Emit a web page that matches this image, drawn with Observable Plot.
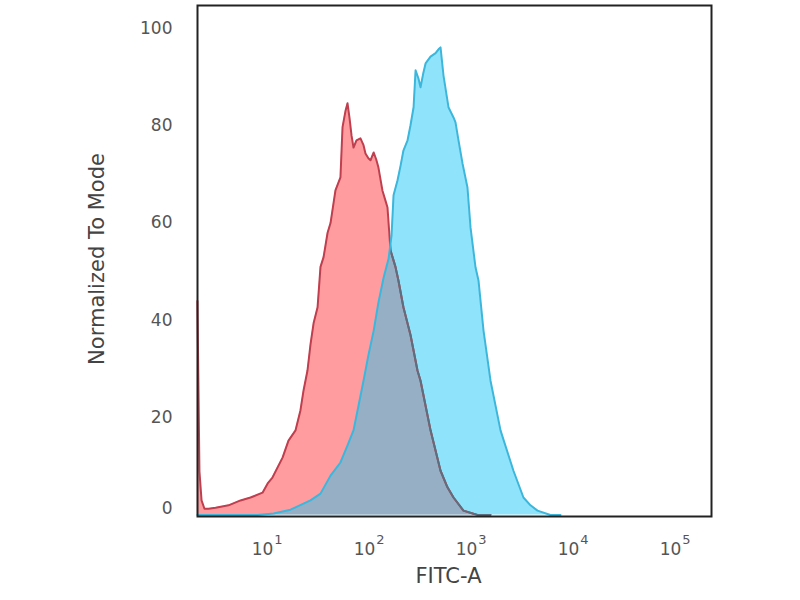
<!DOCTYPE html>
<html>
<head>
<meta charset="utf-8">
<script src="https://cdn.jsdelivr.net/npm/d3@7"></script>
<script src="https://cdn.jsdelivr.net/npm/@observablehq/plot@0.6"></script>
<style>
  html, body { margin: 0; padding: 0; background: #fff; }
</style>
</head>
<body>
<script>
// ---- Data (FITC-A intensity vs. normalized count) ----
const redFitc = [2.15, 2.25, 2.36, 2.52, 2.76, 3.24, 4.34, 5.69, 7.13, 9.35, 10.5, 11.7, 14.7, 16.8, 19.7, 22.0, 23.6, 25.8, 27.6, 29.6, 32.4, 34.6, 37.1, 40.6, 43.4, 48.5, 54.3, 56.9, 60.8, 63.7, 66.7, 69.7, 72.9, 78.0, 85.3, 91.4, 95.5, 102, 107, 115, 122, 128, 140, 150, 157, 168, 188, 201, 225, 264, 309, 331, 415, 520, 608, 697, 873, 1197, 1607];
const redCount = [44, 9, 3, 1.3, 1.3, 1.5, 2, 3, 3.6, 4.6, 6.5, 7.7, 11.8, 15.3, 17.4, 21.5, 25.6, 29.7, 35, 39.4, 42.7, 51, 53, 58, 60, 66.7, 69.4, 79.7, 83, 84.6, 81.5, 78, 75.5, 77, 77.4, 76, 74.3, 73.3, 72.9, 74.5, 73, 71.4, 66.7, 64.6, 63.2, 54.4, 51, 48.2, 42.7, 37, 29.7, 27.6, 17.4, 9.1, 5.7, 3.6, 0.9, 0, 0];

const blueFitc = [2.15, 8.35, 12.0, 17.6, 27.6, 34.6, 43.4, 54.3, 63.7, 72.9, 81.7, 91.4, 102, 115, 128, 144, 161, 172, 180, 197, 211, 225, 247, 264, 283, 296, 316, 331, 354, 371, 415, 465, 497, 520, 556, 622, 697, 729, 780, 853, 955, 1023, 1145, 1225, 1372, 1607, 2014, 2697, 3379, 3963, 4642, 6223, 7799];
const blueCount = [0, 0, 0.3, 1.1, 3.0, 4.4, 8.1, 10.8, 14.3, 17.4, 22.5, 27.6, 32.8, 37.9, 43.7, 48.8, 52.7, 57.4, 65.7, 68.8, 71.8, 74.9, 77.0, 80.1, 83.8, 91.4, 89.7, 87.9, 91.0, 92.8, 94.2, 94.9, 95.7, 96.1, 90.3, 83.8, 81.7, 80.7, 77.0, 72.3, 67.3, 59.1, 50.9, 48.2, 37.9, 27.6, 17.4, 9.1, 3.6, 2.0, 0.9, 0, 0];

const xTicks = [10, 100, 1000, 10000, 100000];
const xExponents = ["1", "2", "3", "4", "5"];
const yTicks = [20, 40, 60, 80, 100];
const yZeroTick = [0];
const xTitle = "FITC-A";
const yTitle = "Normalized To Mode";

// ---- Build tables ----
const red = redFitc.map((x, i) => ({x, y: redCount[i]}));
const blue = blueFitc.map((x, i) => ({x, y: blueCount[i]}));
const xTickRows = xTicks.map((t, i) => ({t, e: xExponents[i]}));

const redFill = "#ff9ca0", blueFill = "#8fe4fb", overlapFill = "#97afc4";
const redStroke = "#bf3f4e", blueStroke = "#3db6dc", darkStroke = "#5f6d7e";
const textColor = "#555";

const svg = Plot.plot({
  width: 800,
  height: 600,
  marginLeft: 197,
  marginRight: 89,
  marginTop: 5,
  marginBottom: 84,
  style: {fontFamily: "'DejaVu Sans', sans-serif", fontSize: "17px", color: textColor, background: "#fff"},
  x: {type: "log", domain: [2.154, 235800], axis: null},
  y: {domain: [-0.3, 104.7], axis: null},
  marks: [
    Plot.areaY(red, {x: "x", y: "y", fill: redFill}),
    Plot.areaY(blue, {x: "x", y: "y", fill: blueFill}),
    Plot.lineY(red, {x: "x", y: "y", stroke: redStroke, strokeWidth: 2}),
    Plot.lineY(blue, {x: "x", y: "y", stroke: blueStroke, strokeWidth: 2}),
    Plot.frame({stroke: "#222", strokeWidth: 2}),
    // y tick labels
    Plot.text(yTicks, {y: d => d, text: d => String(d), frameAnchor: "left", dx: -25, textAnchor: "end", fill: textColor, fontSize: 17}),
    Plot.text(yZeroTick, {y: d => d, text: d => String(d), frameAnchor: "left", dx: -25, dy: -6, textAnchor: "end", fill: textColor, fontSize: 17}),
    // x tick labels: base and exponent
    Plot.text(xTickRows, {x: "t", text: () => "10", frameAnchor: "bottom", dx: -3, dy: 38, textAnchor: "middle", fill: textColor, fontSize: 17}),
    Plot.text(xTickRows, {x: "t", text: "e", frameAnchor: "bottom", dx: 13, dy: 27, textAnchor: "middle", fill: textColor, fontSize: 13}),
    // titles
    Plot.text([xTitle], {text: d => d, frameAnchor: "bottom", dy: 66, dx: -6, textAnchor: "middle", fill: "#444", fontSize: 21}),
    Plot.text([yTitle], {text: d => d, frameAnchor: "left", dx: -100, dy: -2, rotate: -90, textAnchor: "middle", fill: "#444", fontSize: 21})
  ]
});

// ---- Overlap shading: blue area clipped to red area, red outline darkened inside blue ----
const ns = "http://www.w3.org/2000/svg";
const areas = svg.querySelectorAll('g[aria-label="area"]');
const lines = svg.querySelectorAll('g[aria-label="line"]');
const defs = document.createElementNS(ns, "defs");
svg.appendChild(defs);
function makeClip(id, g) {
  const cp = document.createElementNS(ns, "clipPath");
  cp.setAttribute("id", id);
  const p = document.createElementNS(ns, "path");
  p.setAttribute("d", g.querySelector("path").getAttribute("d"));
  cp.appendChild(p);
  defs.appendChild(cp);
}
if (areas.length >= 2 && lines.length >= 2) {
  makeClip("clip-red", areas[0]);
  makeClip("clip-blue", areas[1]);
  const ov = areas[1].cloneNode(true);
  ov.setAttribute("fill", overlapFill);
  ov.querySelectorAll("path").forEach(p => p.setAttribute("fill", overlapFill));
  ov.setAttribute("clip-path", "url(#clip-red)");
  areas[1].after(ov);
  const dark = lines[0].cloneNode(true);
  dark.setAttribute("stroke", darkStroke);
  dark.querySelectorAll("path").forEach(p => p.setAttribute("stroke", darkStroke));
  dark.setAttribute("clip-path", "url(#clip-blue)");
  lines[0].after(dark);
}
document.body.appendChild(svg);
</script>
</body>
</html>
